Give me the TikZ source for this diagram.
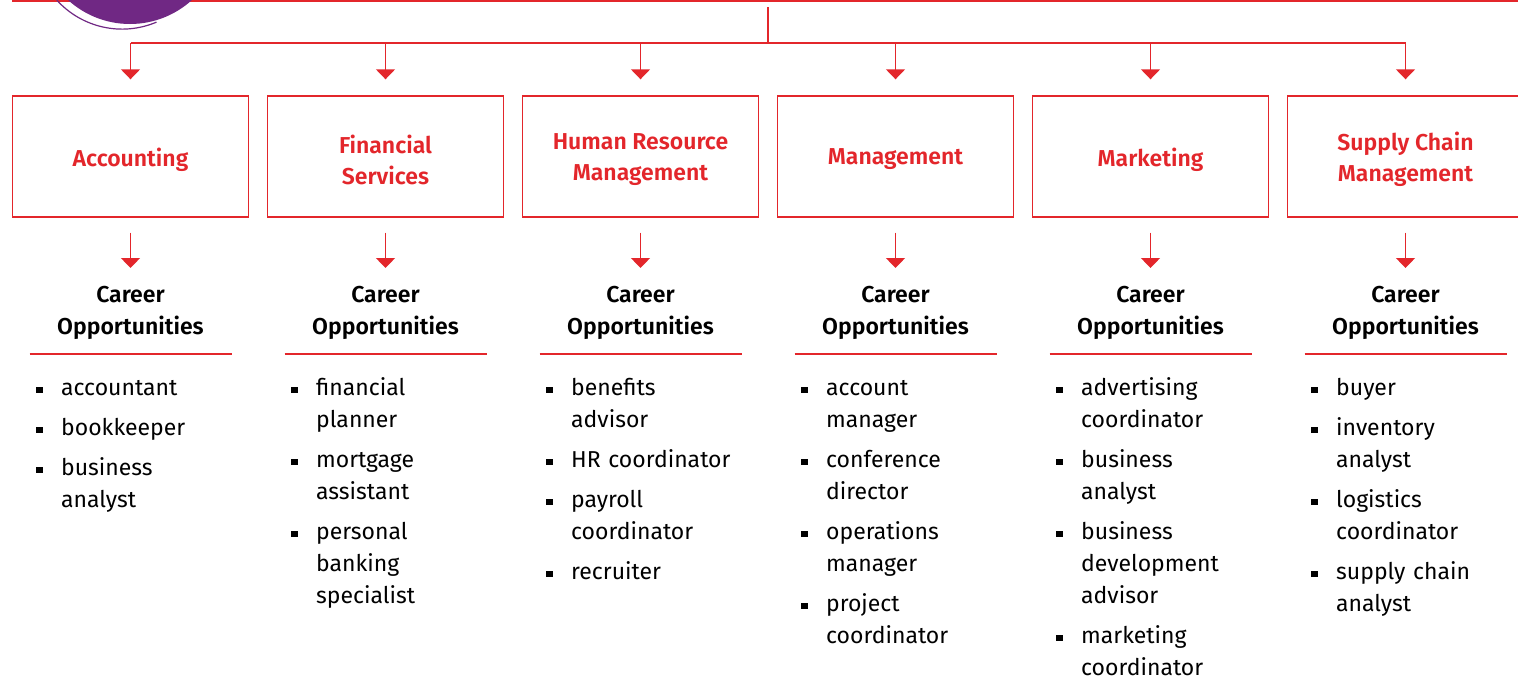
\documentclass[tikz,border=0pt]{standalone}
\usepackage{fontspec}
\setmainfont{Fira Sans}[BoldFont={Fira Sans SemiBold}]
\usetikzlibrary{arrows.meta}
\definecolor{cred}{RGB}{227,38,43}
\definecolor{cpurple}{RGB}{112,40,132}
\tikzset{
  catbox/.style={draw=cred, line width=1.4pt, minimum width=236pt, minimum height=121pt,
    inner sep=0pt, text=cred, font=\fontsize{23}{31}\selectfont\bfseries, align=center},
  head/.style={font=\fontsize{23}{32}\selectfont\bfseries, align=center, inner sep=0pt, anchor=north},
  link/.style={draw=cred, line width=1.4pt},
  arr/.style={link, -{Triangle[width=19pt,length=10pt]}},
  rule/.style={draw=cred, line width=1.3pt},
  lst/.style={anchor=north west, inner sep=0pt, text width=210pt, align=left,
    font=\fontsize{23}{32}\selectfont},
}
\newcommand\itm[1]{\par\noindent\hangindent=25pt\hangafter=1\makebox[25pt][l]{\raisebox{2pt}{\rule{6.5pt}{6.5pt}}}#1\par}
\newcommand\mkcol[3]{%
  \pgfmathsetmacro\cx{130.5+255*(#1-1)}
  \node[catbox] (b#1) at (\cx,156.5) {\raisebox{-3pt}[\height][\depth]{\parbox{230pt}{\centering #2}}};
  \node[head] (h#1) at (\cx,286) {Career\\Opportunities};
  \coordinate (ul#1) at (\cx-101,354);
  \coordinate (ur#1) at (\cx+101,354);
  \draw[rule] (ul#1) -- (ur#1);
  \node[lst] (l#1) at (\cx-94.5,355) {\setlength\parskip{8pt}#3};
  \draw[arr, shorten >=16pt] (b#1.north |- bus) -- (b#1.north);
  \draw[arr, shorten <=15pt, shorten >=18pt] (b#1.south) -- (h#1.north);
}
\begin{document}
\begin{tikzpicture}[x=1pt,y=-1pt]
\useasboundingbox (0,0) rectangle (1518,688);
\fill[white] (0,0) rectangle (1518,688);
\coordinate (tl) at (12,0.5);
\coordinate (tr) at (1518,0.5);
\draw[cred, line width=3.5pt] (tl) -- (tr);
\fill[cpurple] (130,-68) circle[radius=92];
\draw[cpurple, line width=1.2pt] (56.7,0) arc[start angle=138, end angle=67, radius=88];
\coordinate (top) at (768,7);
\coordinate (bus) at (768,43);
\draw[link] (top) -- (bus);
\draw[link] (130.5,43) coordinate (busl) -- (1405.5,43) coordinate (busr);
\mkcol{1}{Accounting}{\itm{accountant}\itm{bookkeeper}\itm{business\newline analyst}}
\mkcol{2}{Financial\\Services}{\itm{financial\newline planner}\itm{mortgage\newline assistant}\itm{personal\newline banking\newline specialist}}
\mkcol{3}{Human Resource\\Management}{\itm{benefits\newline advisor}\itm{HR coordinator}\itm{payroll\newline coordinator}\itm{recruiter}}
\mkcol{4}{Management}{\itm{account\newline manager}\itm{conference\newline director}\itm{operations\newline manager}\itm{project\newline coordinator}}
\mkcol{5}{Marketing}{\itm{advertising\newline coordinator}\itm{business\newline analyst}\itm{business\newline development\newline advisor}\itm{marketing\newline coordinator}}
\mkcol{6}{Supply Chain\\Management}{\itm{buyer}\itm{inventory\newline analyst}\itm{logistics\newline coordinator}\itm{supply chain\newline analyst}}
\end{tikzpicture}
\end{document}
